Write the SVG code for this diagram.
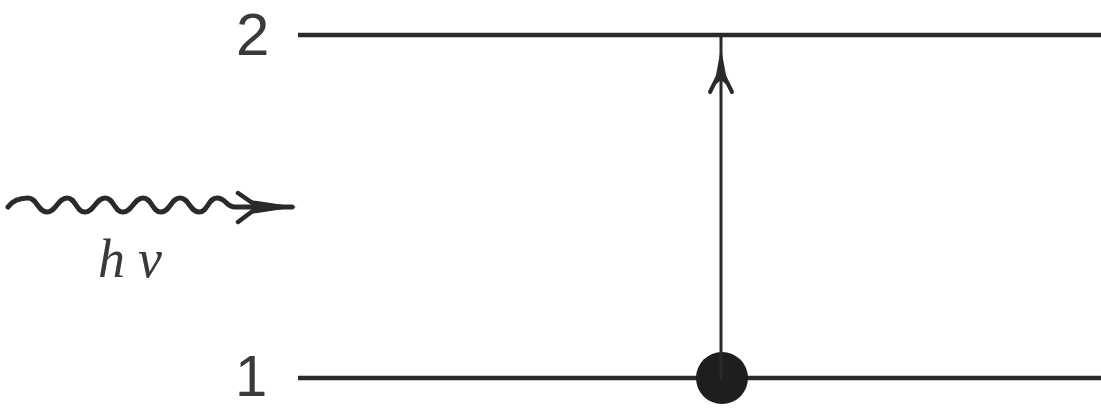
<svg xmlns="http://www.w3.org/2000/svg" width="1101" height="409" viewBox="0 0 1101 409">
<style>
.lvl{stroke:#2a2a2a;stroke-width:4.5;fill:none}
.ln{stroke:#2a2a2a;fill:none;stroke-linecap:round}
.hd{fill:#2a2a2a}
.lbl{font-family:"Liberation Sans",Arial,sans-serif;font-size:60px;fill:#3a3a3a}
.hv{font-family:"Liberation Serif","Times New Roman",serif;font-style:italic;font-size:54px;fill:#3a3a3a}
</style>
<rect width="1101" height="409" fill="#fff"/>
<g id="level2">
<line class="lvl" x1="298" y1="35" x2="1101" y2="35"/>
<text class="lbl" x="236" y="55">2</text>
</g>
<g id="level1">
<line class="lvl" x1="298" y1="378" x2="1101" y2="378"/>
<text class="lbl" x="235" y="396" style="font-size:58px">1</text>
</g>
<g id="electron">
<circle cx="722" cy="378" r="26" fill="#1e1e1e"/>
</g>
<g id="photon">
<text class="hv" x="98" y="277">h</text>
<text class="hv" x="138" y="277">ν</text>
</g>
<g id="connectors">
<line class="ln" x1="721" y1="378" x2="721" y2="37" stroke-width="3"/>
<path class="hd" d="M721,48 L728,86 L721,80 L714,86 Z"/>
<path class="ln" d="M710,92 L721,70 L732,92" stroke-width="4"/>
<path class="ln" stroke-width="5" d="M8,207 C13,200 19,198 28,198 C37,198 38,212 47,212 C56,212 58,198 67,198 C76,198 76,212 85,212 C94,212 96,198 105,198 C114,198 114,212 123,212 C132,212 134,198 143,198 C152,198 152,212 161,212 C170,212 171,198 180,198 C189,198 190,212 199,212 C208,212 208,198 217,198 C226,198 226,207 235,207 L292,207"/>
<path class="hd" d="M297,207 L250,200 L256,207 L250,214 Z"/>
<path class="ln" d="M238,193 L258,207 L238,222" stroke-width="4.5"/>
</g>
</svg>
